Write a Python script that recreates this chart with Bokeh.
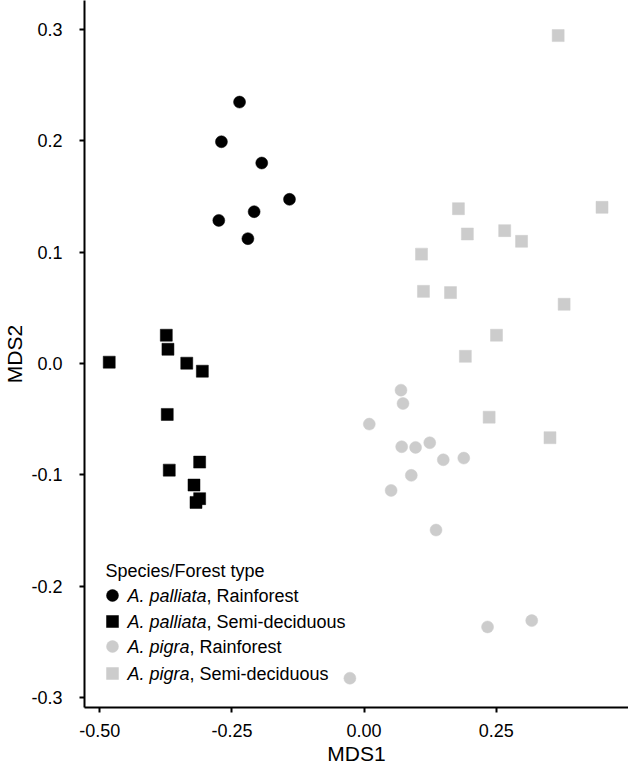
from bokeh.plotting import figure
from bokeh.models import (Range1d, FixedTicker, PrintfTickFormatter, Legend,
                          LegendItem, Label, ColumnDataSource)
from bokeh.embed import file_html
from bokeh.resources import INLINE

# ---- data ----
pal_rf_x = [-0.2356, -0.2699, -0.1936, -0.1411, -0.2080, -0.2749, -0.2198]
pal_rf_y = [0.2347, 0.1991, 0.1800, 0.1474, 0.1363, 0.1285, 0.1121]

pal_sd_x = [-0.4822, -0.3742, -0.3711, -0.3355, -0.3060, -0.3724, -0.3111,
            -0.3686, -0.3218, -0.3111, -0.3180]
pal_sd_y = [0.0012, 0.0254, 0.0128, 0.0003, -0.0069, -0.0457, -0.0885,
            -0.0957, -0.1091, -0.1213, -0.1247]

pig_rf_x = [0.0699, 0.0737, 0.0099, 0.0712, 0.0975, 0.1243, 0.1499, 0.1887,
            0.0894, 0.0512, 0.1362, 0.2337, 0.3173, -0.0268]
pig_rf_y = [-0.0239, -0.0359, -0.0544, -0.0747, -0.0753, -0.0711, -0.0864,
            -0.0849, -0.1004, -0.1139, -0.1495, -0.2365, -0.2308, -0.2825]

pig_sd_x = [0.3673, 0.4503, 0.1786, 0.2661, 0.1955, 0.2980, 0.1087, 0.1124,
            0.1636, 0.3786, 0.2506, 0.1917, 0.2367, 0.3518]
pig_sd_y = [0.2944, 0.1402, 0.1390, 0.1193, 0.1163, 0.1097, 0.0982, 0.0648,
            0.0637, 0.0532, 0.0254, 0.0065, -0.0482, -0.0666]

species_labels = ["A. palliata", "A. palliata", "A. pigra", "A. pigra"]
forest_labels = [", Rainforest", ", Semi-deciduous", ", Rainforest", ", Semi-deciduous"]
legend_title = "Species/Forest type"

x_ticks = [-0.50, -0.25, 0.00, 0.25]
y_ticks = [-0.3, -0.2, -0.1, 0.0, 0.1, 0.2, 0.3]

FONT = "Liberation Sans"
BLACK = "#000000"
GREY = "#cccccc"

p = figure(width=628, height=767, output_backend="svg", toolbar_location=None,
           x_range=Range1d(-0.529, 0.5004), y_range=Range1d(-0.3088, 0.3259),
           min_border_left=79, min_border_right=0, min_border_top=0,
           min_border_bottom=60)
p.outline_line_color = None
p.grid.visible = False
p.background_fill_color = "white"
p.border_fill_color = "white"

groups = [
    (pal_rf_x, pal_rf_y, "circle", BLACK),
    (pal_sd_x, pal_sd_y, "square", BLACK),
    (pig_rf_x, pig_rf_y, "circle", GREY),
    (pig_sd_x, pig_sd_y, "square", GREY),
]
renderers = []
for gx, gy, marker, col in groups:
    src = ColumnDataSource(dict(x=gx, y=gy))
    r = p.scatter("x", "y", source=src, marker=marker, size=12,
                  fill_color=col, line_color=col, line_width=0.5)
    renderers.append(r)

# axes
for ax in (p.xaxis[0], p.yaxis[0]):
    ax.axis_line_width = 2
    ax.axis_line_color = "black"
    ax.major_tick_line_width = 2
    ax.major_tick_line_color = "black"
    ax.major_tick_out = 5
    ax.major_tick_in = 0
    ax.minor_tick_line_color = None
    ax.major_label_text_font = FONT
    ax.major_label_text_font_size = "18px"
    ax.major_label_text_color = "black"
    ax.axis_label_text_font = FONT
    ax.axis_label_text_font_size = "21px"
    ax.axis_label_text_font_style = "normal"
    ax.axis_label_text_color = "black"

p.xaxis.ticker = FixedTicker(ticks=x_ticks)
p.yaxis.ticker = FixedTicker(ticks=y_ticks)
p.xaxis.formatter = PrintfTickFormatter(format="%.2f")
p.yaxis.formatter = PrintfTickFormatter(format="%.1f")
p.xaxis.axis_label = "MDS1"
p.yaxis.axis_label = "MDS2"
p.xaxis.major_label_standoff = 11
p.xaxis.axis_label_standoff = 2
p.yaxis.major_label_standoff = 17
p.yaxis.axis_label_standoff = 2

# legend keys: one single-item legend per row, so each row sits exactly
row_y = [112, 86, 61, 34]
key_box = 30
for r, yy in zip(renderers, row_y):
    lg = Legend(items=[LegendItem(label=" ", renderers=[r])],
                location=(13, yy - key_box // 2), orientation="vertical",
                glyph_width=key_box, glyph_height=key_box, spacing=0,
                label_text_font_size="1px", label_height=1, label_width=1,
                label_standoff=0, padding=0, margin=0, border_line_alpha=0,
                background_fill_alpha=0)
    p.add_layout(lg, "center")

# legend texts (italic species + regular forest type)
W = {"A": 0.667, ".": 0.278, " ": 0.278, "p": 0.556, "a": 0.556, "l": 0.222,
     "i": 0.222, "t": 0.278, "g": 0.556, "r": 0.333}
fs = 18
text_x = 43
p.add_layout(Label(x=21, y=137, x_units="screen", y_units="screen",
                   text=legend_title, text_font=FONT, text_font_size="18px",
                   text_baseline="middle", text_color="black"))
for sp, fo, yy in zip(species_labels, forest_labels, row_y):
    wd = sum(W.get(c, 0.556) for c in sp) * fs
    p.add_layout(Label(x=text_x, y=yy, x_units="screen", y_units="screen",
                       text=sp, text_font=FONT, text_font_size="18px",
                       text_font_style="italic", text_baseline="middle",
                       text_color="black"))
    p.add_layout(Label(x=text_x + wd, y=yy, x_units="screen", y_units="screen",
                       text=fo, text_font=FONT, text_font_size="18px",
                       text_baseline="middle", text_color="black"))

open("out.html", "w").write(file_html(p, INLINE))
